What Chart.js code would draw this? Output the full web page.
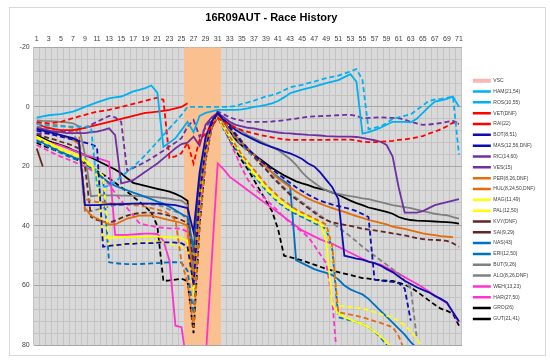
<!DOCTYPE html>
<html>
<head>
<meta charset="utf-8">
<script src="https://cdn.jsdelivr.net/npm/chart.js@4.4.1/dist/chart.umd.min.js"></script>
<style>
  html, body { margin: 0; padding: 0; background: #fff; }
  canvas { display: block; }
</style>
</head>
<body>
<canvas id="raceChart" width="550" height="364"></canvas>
<script>
// lap numbers (category axis, labels shown on odd laps)
const laps = [1,2,3,4,5,6,7,8,9,10,11,12,13,14,15,16,17,18,19,20,21,22,23,24,25,26,27,28,29,30,
  31,32,33,34,35,36,37,38,39,40,41,42,43,44,45,46,47,48,49,50,51,52,53,54,55,56,57,58,59,60,
  61,62,63,64,65,66,67,68,69,70,71];
const vscLaps = [26,27,28,29,30,31];
const yTickLabels = [-20, 0, 20, 40, 60, 80];

// gap per lap (s)
const HAM = [3.6,3.2,2.8,2.6,2.4,2,1.6,0.8,0,-0.8, -1.5,-2.2,-2.9,-3.2,-3.5,-4.3,-5.2,-5.7,-6.3,-7.2,
  -4.8,13.4,12,10.5,7.8,5,8.5,3,2,1.5, 1,1,1,1,0.8,0.5,0,-0.3,-0.7,-1.2, -2,-3.2,-4.6,-5.2,-5.8,-6.3,-6.8,-7.4,-8,-8.5,
  -9,-10,-11,-8.5,9,8.5,7.8,7,6,5, 5,5,5.2,4,2,0,-1.8,-2.2,-2.7,-3.5, 0];
const ROS = [5.7,6,6.3,6.5,6.5,6.6,6.6,6.6,6.6,6.8, 26.5,27,26.5,25,23.5,21.8,20.1,18.2,16.2,14,
  11.7,9.5,7.2,5,2.7,0,0,0,0,0, 0,0,-0.1,-0.3,-1,-1.5,-2.1,-2.8,-3.5,-4, -4.6,-5.6,-6.6,-7,-7.4,-8,-8.5,-9.1,-9.7,-10.1,
  -10.5,-11.2,-11.9,-12.7,-9.1,7.5,7,6.5,5.5,4, 3.5,3,2.5,1,-0.5,-2,-2.5,-2.7,-3,-3.5, 16];
const VET = [5.4,6.5,7,7.5,7.8,7.8,7.8,7.5,7,6.5, 6,5.5,5,4.5,4,3.5,3,2.5,2,1.8, 1.6,1.3,1,0.5,0,-1.2];
const RAI = [5,5.3,5.5,5.3,5,4.4,3.8,3.2,2.7,2.1, 1.6,1.3,1,0.5,0,-0.5,-1,-1.5,-2.1,-2.6,
  -3.1,-2.4,17.2,16.6,15.5,12,19,11,9,6.5, 3.8,5,6,7,7.8,8.4,8.9,9.4,9.8,10.2, 10.6,10.9,11.1,11.1,11.1,11.1,11.1,11.1,11.1,11,
  11,11,11,11.3,11.7,11.8,11.8,11.7,11.6,11.4, 11.1,10.9,10.6,10.2,9.8,9,8.3,7.5,6.5,5.3, 5.7];
const BOT = [7.5,8,8.5,9,9.5,10,10.5,11.5,33,33, 33,32.8,32.7,32.7,32.7,32.6,32.5,32.5,32.5,32.5,
  32.6,32.7,32.8,33,33.5,34,42,22,10,5, 2,4.5,6,7.8,9,10,11,12,12.8,13.5, 14.2,15,15.6,16.5,17.5,19,20,22,24.5,27,
  31,50,50.5,51,51.3,52,52.5,53.3,54.5,55.5, 57,58.4,59.5,60.6,61.5,62.3,63.5,64.5,65.7,69, 72];
const MAS = [8,8.5,9,9.5,10,10.5,11,11.5,12,12.5, 13.5,47,46.7,46.5,46.3,46,46,45.8,45.8,45.8,
  45.6,45.5,45.5,45.6,45.8,47,60,30,14,6, 2,4.5,7,9.5,12,14,16,18,19.5,21, 22.5,24,25.5,27,28.3,29.5,30.5,31.5,32.2,32.8,
  33.3,33.8,34.3,35,36,37,58,58.3,58.6,58.8, 59.2,61,71.8];
const RIC = [7,7.5,8,8.3,8.5,8.8,8.8,8.8,8.8,8.5, 8.3,7.8,7.2,9.5,25.7,25.2,24.6,23.2,21.8,20.4,
  19,17.3,15.6,13.9,12.5,12,10,13,6,3.5, 2,3.5,5,6,6.5,7,7.2,7.6,8,8.3, 8.6,8.8,8.9,9.1,9.2,9.4,9.5,9.6,9.8,9.9,
  10,10,10,10.1,10.4,10.8,11.2,11.7,12.8,16.7, 27,35.5,35.5,35.5,35,34,33,32.5,32,31.5, 31];
const VES = [9,9,9,8.8,8.5,8.2,8,7.5,7,6, 5,4,3,3.5,5,21.5,20.5,19.5,18.5,17.3,
  16,14.7,13.3,12,10.5,6.6,4.4,10,7,4, 1.5,2.5,3.5,4.2,4.6,5,5,5,5,4.9, 4.7,4.5,4.2,3.9,3.6,3.3,3.2,3.1,3,2.9,
  2.8,2.7,2.7,3,3.8,3.7,3.6,3.5,3.6,3.7, 3.8,4.3,5,5.5,6,5.9,5.7,5.4,5,4.7, 5.6];
const PER = [7,7.5,8,8.8,9.5,10.2,11,12.5,34,36.5, 37.5,38.5,39.5,39.5,38.5,37.5,37,36.5,36.5,36.5,
  37,37.5,38,38.5,39,40,60,30,13,5, 2,5,7.5,10,12,14,16,18,20,22, 24,25.5,27,28.5,29.7,30.8,31.7,32.5,33.3,34,
  34.7,35.3,36,36.7,37.3,38,38.5,39,39.5,40.2, 40.6,41,41.5,42,42.5,42.8,43.1,43.4,43.6,43.8];
const HUL = [5.5,5.5,5.8,6,6.3,6.6,7,9,31,31.5, 32,32,32.3,32.5,32.5,32.7,33,33.2,33.5,34,
  34.5,35,36,38,52,59,74,40,18,7, 3,6.5,10,13,16,18.5,21,23.5,26,28, 30,31.5,33,34.5,35.5,36.5,37.5,38.5,39.5,47,
  69,69.4,69.8,70.2,70.7,71.3,72,72.6,73.3,74, 77,82];
const MAG = [10,11,12,13,14,14.8,15.5,16.5,18,19.5, 23,44,44,43.8,43.8,43.7,43.7,43.7,43.6,43.6,
  43.6,43.7,43.8,44,44,45,60,30,14,6, 3,7,10,13,16,19,22,24.5,27,29, 31,32.5,34,35,36,37,38,39,45,66,
  69.5,70.5,71.5,72.3,73,74,75.5,77,79,81, 83,85,86,87,88,89,90,91,92,93, 94];
const PAL = [10.5,11.5,12.5,13.5,14.5,15.3,16,17,18.5,20, 21.5,23,46.5,46.5,46.3,46,45.8,45.5,45.3,45.2,
  45.2,45.5,46,46.5,47,48,62,32,15,6, 3,7,10.5,13.5,16.5,19.5,22.5,25,27.5,29.5, 31.5,33,34.5,35.5,36.5,37.5,38.5,39.5,40.5,48,
  66.8,67,67.3,67.5,67.8,68.3,69,69.6,70.2,70.7, 72,73.5,75.2,78,81,83,85,86,87,88, 89];
const KVY = [14,20];
const SAI = [9,9.8,10.5,11,11.7,12.3,13,14,20,37, 38,38.5,39,38.2,37.3,36.5,36,35.7,35.5,35.5,
  35.7,36,36.5,37.2,38,39,52,27,14,6, 2,4,6.5,9,11.5,14,16.5,19,21,23.5, 25.5,27.5,29.5,31,32.5,34,35.5,37,38,38.8,
  39.2,39.6,40,40.4,40.9,41.2,41.5,41.8,42.1,42.5, 42.8,43.2,43.6,44.1,44.4,44.6,44.7,44.8,45,45.8, 47];
const NAS = [11,12,13,14,15,16,16.8,17.5,18.5,20, 22,24,25.5,26.5,27.3,28,28.8,29.5,30.2,31,
  31.8,32.5,33.5,34.7,36,37,47.5,25,12,5, 2,5,7.5,10,12,14,16,18,20,22, 23.5,25,26.5,51.5,52.5,53.5,54.5,55.2,55.8,56.5,
  58,60,61.3,62.2,63,64.5,66.5,68.5,70.5,72.5, 74.5,76.5,79,81,83,85,87,88,89,90, 91];
const ERI = [11.5,12.5,13.5,14.5,15.5,16.5,17.3,18,19,20.5, 22,24,52.2,52.5,52.7,52.8,52.8,52.8,52.7,52.6,
  52.5,52.3,52.2,52.2,52.3,55,69.5,38,17,7, 3.5,7.5,11,14,17,20,23,25.5,28,30, 32,33.5,35,36,37,38,39,40,41,48,
  70.7,71.2,71.7,72.3,73,74,75.5,77.5,80,83, 85,86,87,88,89,90,91,92,93,94, 95];
const BUT = [4.5,4.7,4.8,4.9,5,5.2,5.5,6.5,16,30, 29.8,29.7,29.7,29.7,29.8,29.8,29.9,30,30.1,30.2,
  30.4,30.6,30.8,31.2,31.5,33,55,28,12,5, 2,4,5.5,7,8.2,9.5,10.5,11.5,12.5,13.5, 14.5,16,17.5,19.5,22,24,25.5,27,28,28.8,
  29.2,29.6,30,30.3,30.7,31,31.5,32,32.5,33, 33.3,33.7,34,34.5,35,35.4,35.9,36.2,36.4,37, 37.5];
const ALO = [6.5,7,7.3,7.7,8,8.5,9,12,35.3,35, 34.5,34,33.5,33,33,32.8,32.5,32.5,32.5,32.8,
  33,33.5,34.5,35.2,36,38,62,31,14,6, 2,5,8,10.5,13,15,17,19,21,23, 25,27,29,30.5,32,33.5,35,36.5,38,39,
  40.5,42,43.5,45.2,47,48.5,50,51.5,53,54.5, 56,58.4,61,77.5];
const WEH = [11,11.5,12,12.5,13,13.8,14.6,15.4,16.2,16.7, 17.2,17.8,18.5,43,43,43,42.8,42.7,42.6,42.6,
  42.7,45,51.6,73.5,74,88,100,100,85,52, 19,21,23.5,25,26.5,28,29.5,31,32.5,34, 35.5,37,38.5,40,41.5,42.5,43.5,44.5,45.3,46,
  47,48,49,50,51,52,52.5,53,54,55, 56,57.2,58.3,59.4,60.7,62,63.4,64.7,66,69, 72.4];
const HAR = [12.8,13.8,14.8,15.8,16.7,17.5,18.3,19.2,20,21.2, 22.5,24,26,29,31.5,34,36.5,39,39.6,40,
  40.4,40.6,40.8,40.8,41,42,62,35,16,7, 3,7,11.5,16,20.5,24.5,27,29,31,33, 35,37,39,40.5,42,43.7,46.5,49.5,52.6,65,
  90];
const GRO = [9.5,10.5,11.5,12.2,12.8,13.5,14.5,15.3,16.2,17, 18,19,20,21,22.3,24,25.5,26,26.5,27,
  27.5,28,28.5,29.2,30.2,31.5,58,28,12,5, 2,5,8,11,13,14.5,16,17.5,19,20.5, 21.8,23,24,25,25.7,26.3,27,27.5,28,28.8,
  29.5,30.5,31.5,32.3,33,33.8,34.3,34.8,35.3,35.9, 37,37.6,38,38.2,38.3,38.4,38.5,38.6,38.7,38.9, 39.2];
const GUT = [12,13,13.8,14.5,15.2,16,17,18,19,20.2, 21.5,22.7,24,25.5,27,28.5,30.2,31.8,33.5,35.5,
  40,58.5,58.3,58,57.7,58.5,76,40,18,7, 3,7,11,14.5,18,21,24.5,28,31.5,35, 41,50,50.5,51,51.6,52.3,53,53.7,54.4,55,
  55.5,56,56.5,57,57.5,57.7,58,58.2,58.4,58.5, 59,59.8,60.6,62,63.5,65,66.5,67.8,68.5,69.5, 73.5];

const driverNames = ['HAM(21,54)','ROS(10,55)','VET(DNF)','RAI(22)','BOT(8,51)','MAS(12,56,DNF)',
  'RIC(14,60)','VES(15)','PER(8,26,DNF)','HUL(8,24,50,DNF)','MAG(11,49)','PAL(12,50)','KVY(DNF)',
  'SAI(9,29)','NAS(43)','ERI(12,50)','BUT(9,26)','ALO(8,26,DNF)','WEH(13,23)','HAR(27,50)','GRO(26)','GUT(21,41)'];
const driverSeries = [HAM, ROS, VET, RAI, BOT, MAS, RIC, VES, PER, HUL, MAG, PAL, KVY,
  SAI, NAS, ERI, BUT, ALO, WEH, HAR, GRO, GUT];

// styles
const lineColors = ['#00b0f0','#00b0f0','#ff0000','#ff0000','#0c0cb0','#0c0cb0','#7030a0','#7030a0',
  '#e46c0a','#e46c0a','#ffff00','#ffff00','#632523','#632523','#0070c0','#0070c0','#808080','#808080',
  '#ff33cc','#ff33cc','#000000','#000000'];
const lineDashed = [false,true,false,true,false,true,false,true,false,true,false,true,false,true,
  false,true,false,true,false,true,false,true];

const datasets = [{
  type: 'bar',
  label: 'VSC',
  data: laps.map(l => vscLaps.includes(l) ? [yTickLabels[0], yTickLabels[yTickLabels.length - 1]] : null),
  backgroundColor: '#fac090',
  borderWidth: 0,
  barPercentage: 1,
  categoryPercentage: 1,
  order: 1
}];
driverSeries.forEach((s, i) => {
  datasets.push({
    type: 'line',
    label: driverNames[i],
    data: s,
    borderColor: lineColors[i],
    backgroundColor: lineColors[i],
    borderWidth: 1.8,
    borderDash: lineDashed[i] ? [5, 3] : [],
    pointRadius: 0,
    tension: 0,
    fill: false,
    order: 0
  });
});

// white page, chart frame and grey plot area
const frame = {
  id: 'frame',
  beforeDraw(chart) {
    const { ctx, chartArea: a } = chart;
    ctx.save();
    ctx.fillStyle = '#ffffff';
    ctx.fillRect(0, 0, chart.width, chart.height);
    ctx.strokeStyle = '#d9d9d9';
    ctx.lineWidth = 1;
    ctx.strokeRect(9.5, 7.5, 536, 348);
    ctx.fillStyle = '#d9d9d9';
    ctx.fillRect(a.left, a.top, a.right - a.left, a.bottom - a.top);
    ctx.restore();
  }
};

const tickFont = { family: 'Liberation Sans', size: 7 };

new Chart(document.getElementById('raceChart'), {
  type: 'line',
  data: { labels: laps, datasets: datasets },
  options: {
    responsive: false,
    animation: false,
    devicePixelRatio: 1,
    layout: { padding: { left: 10, right: 5, top: 4, bottom: 19 } },
    scales: {
      x: {
        position: 'top',
        offset: true,
        grid: { offset: true, color: '#c3c3c3', drawTicks: false },
        border: { display: false },
        ticks: {
          autoSkip: false, maxRotation: 0, padding: 4, font: tickFont, color: '#404040',
          callback(v, i) { return i % 2 === 0 ? this.getLabelForValue(v) : ''; }
        },
        afterFit(s) { s.height = 20.8; }
      },
      y: {
        reverse: true,
        min: yTickLabels[0],
        max: yTickLabels[yTickLabels.length - 1],
        grid: {
          color: c => (c.tick && c.tick.value % 20 === 0) ? '#a6a6a6' : '#c3c3c3',
          drawTicks: false
        },
        border: { display: false },
        ticks: {
          stepSize: 4, maxTicksLimit: 40, autoSkip: false, padding: 4,
          font: tickFont, color: '#404040',
          callback: v => yTickLabels.includes(v) ? v : ''
        },
        afterFit(s) { s.width = 23.7; }
      },
      pad: {
        type: 'linear', axis: 'y', position: 'right', display: true,
        grid: { display: false }, border: { display: false }, ticks: { display: false },
        afterFit(s) { s.width = 5; }
      }
    },
    plugins: {
      title: {
        display: true,
        text: '16R09AUT - Race History    ',
        color: '#000',
        font: { family: 'Liberation Sans', size: 11, weight: 'bold' },
        padding: { top: 7.4, bottom: 2 }
      },
      legend: {
        position: 'right',
        align: 'center',
        fullSize: false,
        title: { display: true, text: ' ', padding: { top: 3, bottom: 3 }, font: { size: 1 } },
        labels: {
          usePointStyle: true,
          pointStyle: 'line',
          pointStyleWidth: 18,
          boxHeight: 5,
          padding: 5.83,
          color: '#404040',
          font: { family: 'Liberation Sans', size: 5 },
          sort: (a, b) => a.datasetIndex - b.datasetIndex,
          generateLabels(chart) {
            const items = Chart.defaults.plugins.legend.labels.generateLabels(chart);
            items.forEach(it => {
              if (it.datasetIndex === 0) {
                it.strokeStyle = '#f7b7b5';
                it.lineWidth = 4;
                it.lineDash = [];
              } else {
                it.lineWidth = 2.5;
              }
            });
            return items;
          }
        }
      },
      tooltip: { enabled: false }
    }
  },
  plugins: [frame]
});
</script>
</body>
</html>
